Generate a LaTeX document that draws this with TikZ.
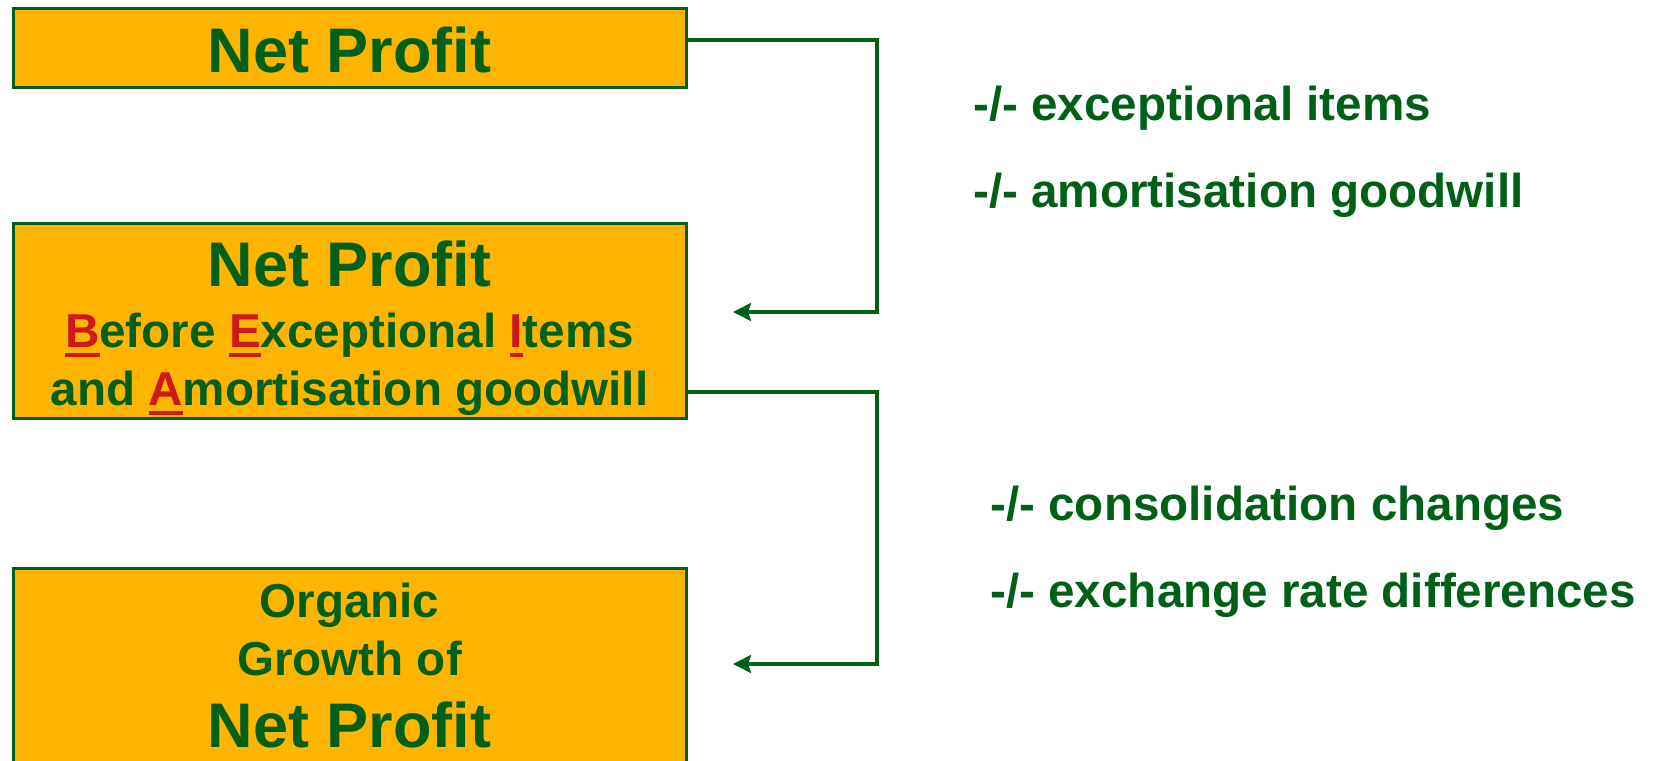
\documentclass[tikz,border=0pt]{standalone}
\usepackage{fontspec}
\setmainfont{Liberation Sans}
\usetikzlibrary{arrows.meta}
\definecolor{dgreen}{RGB}{0,96,24}
\definecolor{boxfill}{RGB}{255,181,0}
\definecolor{ulred}{RGB}{204,26,26}
\newcommand\redul[1]{\setbox0\hbox{#1}\rlap{\color{ulred}\rule[-5pt]{\wd0}{2pt}}\textcolor{ulred}{#1}}
\begin{document}
\begin{tikzpicture}[x=0.5pt,y=-0.5pt,
  box/.style={draw=dgreen, line width=1.5pt, fill=boxfill, inner sep=0pt},
  big/.style={font=\fontsize{31.5}{36}\selectfont\bfseries, text=dgreen, inner sep=0pt, anchor=base},
  med/.style={font=\fontsize{23.8}{28}\selectfont\bfseries, text=dgreen, inner sep=0pt, anchor=base},
  lab/.style={med, anchor=base west},
  conn/.style={draw=dgreen, line width=2pt},
  arr/.style={conn, -{Stealth[length=9pt,width=9pt,inset=1.5pt]}}
]
\useasboundingbox (0,0) rectangle (1656,761);
\begin{scope}
\clip (0,0) rectangle (1656,761);
\node[box, minimum width=336.5pt, minimum height=39.25pt] (b1) at (349.5,47.75) {};
\node[box, minimum width=336.5pt, minimum height=97.5pt] (b2) at (349.5,320.5) {};
\node[box, minimum width=336.5pt, minimum height=111pt] (b3) at (349.5,679) {};

\node[big] (t1) at (349.5,72) {Net Profit};
\node[big] (t2a) at (349.5,286) {Net Profit};
\node[med] (t2b) at (349.5,347) {\redul{B}efore \redul{E}xceptional \redul{I}tems};
\node[med] (t2c) at (349.5,405) {and \redul{A}mortisation goodwill};
\node[med] (t3a) at (349.5,617) {Organic};
\node[med] (t3b) at (349.5,675) {Growth of};
\node[big] (t3c) at (349.5,747) {Net Profit};

\node[lab] (l1) at (973,120) {-/- exceptional items};
\node[lab] (l2) at (973,207) {-/- amortisation goodwill};
\node[lab] (l3) at (990,520) {-/- consolidation changes};
\node[lab] (l4) at (990,607) {-/- exchange rate differences};

\coordinate (k1) at (877,40);
\coordinate (e1) at (733,312);
\coordinate (k2) at (877,392);
\coordinate (e2) at (733,664);
\draw[arr] (b1.east |- k1) -- (k1) |- (e1);
\draw[arr] (b2.east |- k2) -- (k2) |- (e2);
\end{scope}
\end{tikzpicture}
\end{document}
